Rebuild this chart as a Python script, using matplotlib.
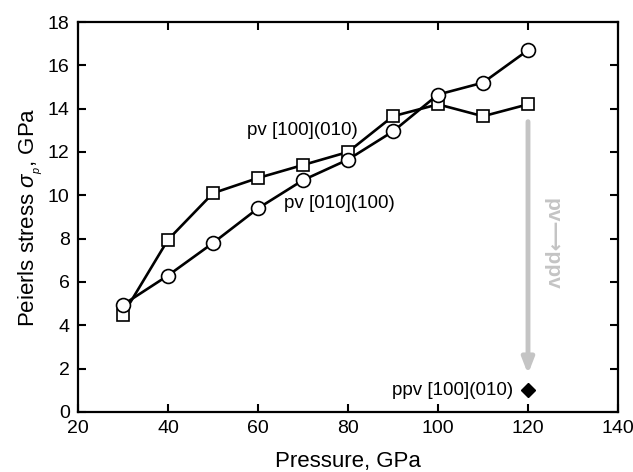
import numpy as np
import matplotlib.pyplot as plt

plt.rcParams['font.family'] = ['Liberation Sans', 'DejaVu Sans']
plt.rcParams['mathtext.fontset'] = 'custom'
plt.rcParams['mathtext.it'] = 'Liberation Sans:italic'
plt.rcParams['mathtext.rm'] = 'Liberation Sans'

# data
pressure = [30, 40, 50, 60, 70, 80, 90, 100, 110, 120]
pv_100_010 = [4.5, 7.95, 10.1, 10.8, 11.4, 12.0, 13.65, 14.2, 13.65, 14.2]
pv_010_100 = [4.95, 6.3, 7.8, 9.4, 10.7, 11.65, 12.95, 14.65, 15.2, 16.7]
ppv_p = [120]
ppv_100_010 = [1.0]

fig = plt.figure(figsize=(6.33, 4.72), dpi=100)
ax = fig.add_axes([78 / 633, 1 - 412 / 472, 540 / 633, 390 / 472])

ax.plot(pressure, pv_100_010, '-s', color='black', lw=1.9, ms=9,
        mfc='white', mec='black', mew=1.2, zorder=3)
ax.plot(pressure, pv_010_100, '-o', color='black', lw=1.9, ms=10,
        mfc='white', mec='black', mew=1.2, zorder=3)
ax.plot(ppv_p, ppv_100_010, 'D', color='black', ms=7, zorder=3)

# pv -> ppv transition arrow
ax.annotate('', xy=(120, 1.75), xytext=(120, 13.4),
            arrowprops=dict(arrowstyle='-|>,head_length=0.9,head_width=0.35',
                            color='#c4c4c4', lw=3.5, shrinkA=0, shrinkB=0))
ax.text(125.3, 7.75, 'pv⟶ppv', rotation=-90, color='#c4c4c4', fontsize=15,
        fontweight='bold', ha='center', va='center')

ax.text(57.5, 13.0, 'pv [100](010)', fontsize=13.5, va='center')
ax.text(65.8, 9.6, 'pv [010](100)', fontsize=13.5, va='center')
ax.text(116.6, 1.0, 'ppv [100](010)', fontsize=13.5, va='center', ha='right')

ax.set_xlim(20, 140)
ax.set_ylim(0, 18)
ax.set_xticks(np.arange(20, 141, 20))
ax.set_yticks(np.arange(0, 19, 2))
ax.tick_params(direction='in', top=True, right=True, length=6, width=1.5,
               labelsize=14, pad=6)
for s in ax.spines.values():
    s.set_linewidth(1.6)

ax.set_xlabel('Pressure, GPa', fontsize=16, labelpad=10)
ax.set_ylabel(r'Peierls stress $\sigma_{_p}$, GPa', fontsize=16, labelpad=3)

fig.savefig('out.png', dpi=100)
